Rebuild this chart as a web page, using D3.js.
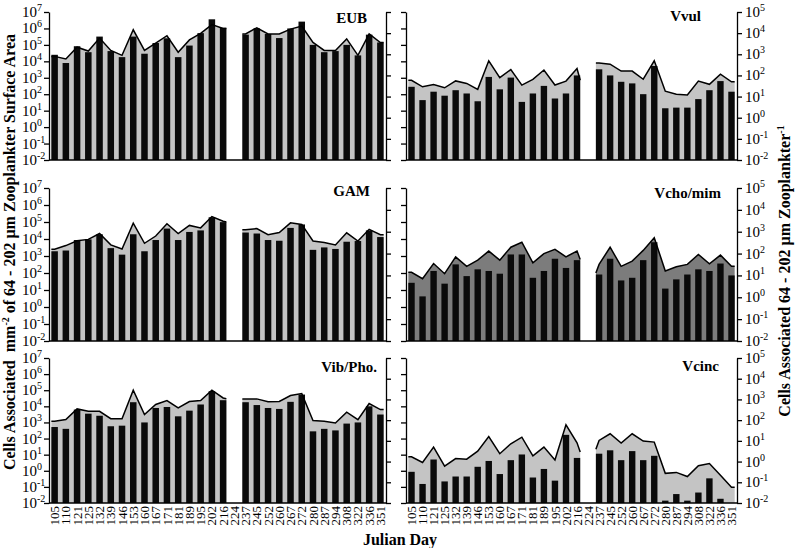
<!DOCTYPE html>
<html><head><meta charset="utf-8">
<script src="https://cdn.jsdelivr.net/npm/d3@7"></script>
<style>
body{margin:0;background:#fff}
svg{display:block}
text{font-family:"Liberation Serif","Times New Roman",serif;fill:#000}
</style>
</head><body>
<svg id="chart" width="798" height="548"></svg>
<script>
// ---------- DATA ----------
const days = ["105","110","121","125","132","139","146","153","160","167","171","181","189","195","202","216",
              "224","237","245","252","260","267","272","280","287","294","308","322","336","351"];
const leftTicks = [1e-2,1e-1,1e0,1e1,1e2,1e3,1e4,1e5,1e6,1e7];
const rightTicks = [1e-2,1e-1,1e0,1e1,1e2,1e3,1e4,1e5];

// area (outline) series and bar series per panel; null = no sample (day 224)
const eubArea = [2.0e4,1.4e4,7.2e4,4.2e4,2.6e5,4.6e4,2.3e4,8.3e5,4.6e4,1.3e5,3.6e5,3.6e4,2.0e5,5.0e5,1.7e6,1.0e6,
                 null,4.6e5,1.1e6,4.6e5,4.6e5,9.1e5,1.4e6,1.4e5,4.6e4,4.6e4,2.3e5,2.3e4,4.6e5,1.4e5];
const eubBars = [2.5e4,7.9e3,8.3e4,3.6e4,3.2e5,4.2e4,1.8e4,3.2e5,2.9e4,1.3e5,2.5e5,1.8e4,9.1e4,5.2e5,3.6e6,1.1e6,
                 null,4.2e5,1.0e6,4.6e5,2.6e5,1.0e6,2.6e6,1.0e5,3.6e4,4.2e4,1.0e5,2.3e4,4.2e5,1.4e5];
const eubEdges = [1.0e6,4.6e5];

const gamArea = [2.5e3,4.1e3,7.9e3,9.5e3,2.1e4,4.5e3,2.6e3,8.5e4,5.6e3,1.5e4,7.9e4,2.1e4,6.3e4,4.5e4,2.1e5,1.1e5,
                 null,3.5e4,4.1e4,1.8e4,2.4e4,8.9e4,7.2e4,7.6e3,6.3e3,4.5e3,2.3e4,7.6e3,3.7e4,1.8e4];
const gamBars = [1.9e3,2.1e3,8.7e3,9.5e3,1.9e4,2.9e3,1.2e3,1.9e4,1.9e3,8.7e3,4.1e4,8.7e3,2.6e4,3.2e4,1.9e5,9.8e4,
                 null,2.4e4,2.1e4,8.7e3,7.9e3,4.5e4,7.2e4,2.3e3,3.2e3,2.6e3,6.9e3,7.6e3,3.2e4,1.3e4];
const gamEdges = [1.0e5,3.5e4];

const vibArea = [1.2e3,1.5e3,6.9e3,4.9e3,4.9e3,1.7e3,1.7e3,1.0e5,3.1e3,1.3e4,2.3e4,7.9e3,2.0e4,2.3e4,1.0e5,3.3e4,
                 null,2.9e4,2.9e4,1.9e4,2.0e4,4.7e4,6.2e4,1.3e3,1.2e3,9.3e2,4.3e3,1.5e3,1.5e4,6.3e3];
const vibBars = [5.2e2,4.0e2,6.3e3,3.5e3,2.6e3,5.8e2,6.3e2,1.8e4,1.0e3,7.9e3,9.1e3,2.4e3,5.4e3,1.3e4,8.7e4,2.4e4,
                 null,1.8e4,1.2e4,7.9e3,6.9e3,1.9e4,5.4e4,2.8e2,4.0e2,3.2e2,8.5e2,1.0e3,1.0e4,3.1e3];
const vibEdges = [3.0e4,2.9e4];

const vvulArea = [59,29,37,26,55,42,22,490,79,190,35,65,180,35,54,210,
                  null,390,340,160,160,66,490,18,13,12,54,38,115,50];
const vvulBars = [29,6.8,17,11,20,14,6.0,85,22,79,5.6,14,32,8.1,14,100,
                  null,195,100,50,42,13,280,2.8,3.0,3.0,7.6,20,54,17];
const vvulEdges = [59,390];

const vchoArea = [14,7.1,35,12,71,26,50,130,50,195,330,38,100,155,71,130,
                  null,32,195,26,45,140,525,16,25,32,91,34,85,26];
const vchoBars = [4.6,1.1,16,4.2,32,9.3,19,16,12,91,91,7.8,16,58,22,50,
                  null,11,58,5.9,7.8,50,330,2.5,6.6,11,19,16,35,10];
const vchoEdges = [54,13];

const vcincArea = [1.7,0.91,5.0,0.60,1.4,1.3,3.2,16,2.4,7.2,15,1.9,5.0,1.2,60,8.1,
                   null,10.5,22,7.8,22,9.8,8.7,0.27,0.30,0.19,0.63,0.81,0.22,0.058];
const vcincBars = [0.32,0.083,1.26,0.11,0.19,0.19,0.56,1.07,0.25,1.17,2.2,0.17,0.44,0.12,19.5,1.5,
                   null,2.4,3.5,1.17,3.2,1.17,1.9,0.013,0.027,0.013,0.032,0.155,0.016,0.01];
const vcincEdges = [2.9,3.9];

const panelNames = ["EUB","GAM","Vib/Pho.","Vvul","Vcho/mim","Vcinc"];

// ---------- LAYOUT ----------
const cols = [{x0:49,x1:386},{x0:406,x1:737}];
const rows = [{top:12,bottom:160},{top:188,bottom:341},{top:358,bottom:503}];
const panels = [
  {name:panelNames[0],area:eubArea,bars:eubBars,edges:eubEdges,col:0,row:0,fill:"#c4c4c4",lx:367,ly:23},
  {name:panelNames[1],area:gamArea,bars:gamBars,edges:gamEdges,col:0,row:1,fill:"#c4c4c4",lx:370,ly:196},
  {name:panelNames[2],area:vibArea,bars:vibBars,edges:vibEdges,col:0,row:2,fill:"#c4c4c4",lx:377,ly:372},
  {name:panelNames[3],area:vvulArea,bars:vvulBars,edges:vvulEdges,col:1,row:0,fill:"#c4c4c4",lx:701,ly:21},
  {name:panelNames[4],area:vchoArea,bars:vchoBars,edges:vchoEdges,col:1,row:1,fill:"#7c7c7c",lx:721,ly:198},
  {name:panelNames[5],area:vcincArea,bars:vcincBars,edges:vcincEdges,col:1,row:2,fill:"#c4c4c4",lx:719,ly:371}
];

const svg = d3.select("#chart");

function addPowLabel(g, x, y, v, anchor){
  const e = Math.round(Math.log10(v));
  const t = g.append("text").attr("x",x).attr("y",y+5).attr("text-anchor",anchor);
  t.append("tspan").attr("font-size",15).text("10");
  t.append("tspan").attr("font-size",10).attr("dy",-6).text(String(e));
}

panels.forEach(p=>{
  const c = cols[p.col], r = rows[p.row];
  const g = svg.append("g");
  const x = d3.scaleBand().domain(days).range([c.x0,c.x1]).paddingInner(0.42).paddingOuter(0.21);
  const bw = x.bandwidth();
  const yL = d3.scaleLog().domain([1e-2,1e7]).range([r.bottom,r.top]);
  const yR = d3.scaleLog().domain([1e-2,1e5]).range([r.bottom,r.top]);
  const y = p.col===0 ? yL : yR;

  // area segments
  const seg1 = [{x:x(days[0]),v:p.area[0]}];
  for(let i=0;i<=15;i++) seg1.push({x:x(days[i])+bw/2,v:p.area[i]});
  seg1.push({x:x(days[15])+bw,v:p.edges[0]});
  const seg2 = [{x:x(days[17]),v:p.edges[1]}];
  for(let i=17;i<days.length;i++) seg2.push({x:x(days[i])+bw/2,v:p.area[i]});
  seg2.push({x:x(days[days.length-1])+bw,v:p.area[days.length-1]});

  const area = d3.area().x(d=>d.x).y0(r.bottom).y1(d=>y(d.v));
  const line = d3.line().x(d=>d.x).y(d=>y(d.v));
  [seg1,seg2].forEach(s=>{
    g.append("path").attr("d",area(s)).attr("fill",p.fill);
  });
  // bars
  g.selectAll("rect.bar").data(days.map((d,i)=>({d,v:p.bars[i]})).filter(o=>o.v!=null))
    .enter().append("rect").attr("class","bar")
    .attr("x",o=>x(o.d)).attr("width",bw)
    .attr("y",o=>y(o.v)).attr("height",o=>r.bottom-y(o.v))
    .attr("fill","#0a0a0a");
  [seg1,seg2].forEach(s=>{
    g.append("path").attr("d",line(s)).attr("fill","none").attr("stroke","#000").attr("stroke-width",1.5).attr("stroke-linejoin","miter");
  });

  // axes
  const axL = d3.axisLeft(yL).tickValues(leftTicks).tickFormat("").tickSize(5).tickSizeOuter(0);
  const axR = d3.axisRight(yR).tickValues(rightTicks).tickFormat("").tickSize(5).tickSizeOuter(0);
  const gl = g.append("g").attr("transform",`translate(${c.x0},0)`).call(axL);
  const gr = g.append("g").attr("transform",`translate(${c.x1},0)`).call(axR);
  [gl,gr].forEach(a=>{a.selectAll("path,line").attr("stroke","#000").attr("stroke-width",1.3);});
  g.append("line").attr("x1",c.x0).attr("x2",c.x1).attr("y1",r.bottom).attr("y2",r.bottom)
    .attr("stroke","#000").attr("stroke-width",1.5);

  if(p.col===0){
    leftTicks.forEach(v=>addPowLabel(g,22,yL(v),v,"start"));
  } else {
    rightTicks.forEach(v=>addPowLabel(g,745,yR(v),v,"start"));
  }

  g.append("text").attr("x",p.lx).attr("y",p.ly).attr("text-anchor","end")
    .attr("font-size",15).attr("font-weight","bold").text(p.name);

  if(p.row===2){
    days.forEach(d=>{
      g.append("text").attr("transform",`translate(${x(d)+bw/2},${r.bottom+3}) rotate(-90)`)
        .attr("text-anchor","end").attr("dy","0.35em").attr("font-size",13).text(d);
    });
  }
});

// titles
const lt = svg.append("text").attr("transform","translate(15,252) rotate(-90)")
  .attr("text-anchor","middle").attr("font-size",16).attr("font-weight","bold");
lt.append("tspan").text("Cells Associated\u00a0\u00a0mm");
lt.append("tspan").attr("font-size",10).attr("dy",-6).text("-2");
lt.append("tspan").attr("dy",6).text(" of 64 - 202 \u00b5m Zooplankter Surface Area");

const rt = svg.append("text").attr("transform","translate(790,271) rotate(-90)")
  .attr("text-anchor","middle").attr("font-size",16).attr("font-weight","bold");
rt.append("tspan").text("Cells Associated 64 - 202 \u00b5m Zooplankter");
rt.append("tspan").attr("font-size",10).attr("dy",-6).text("-1");

svg.append("text").attr("x",400).attr("y",545).attr("text-anchor","middle")
  .attr("font-size",16).attr("font-weight","bold").text("Julian Day");
</script>
</body></html>
